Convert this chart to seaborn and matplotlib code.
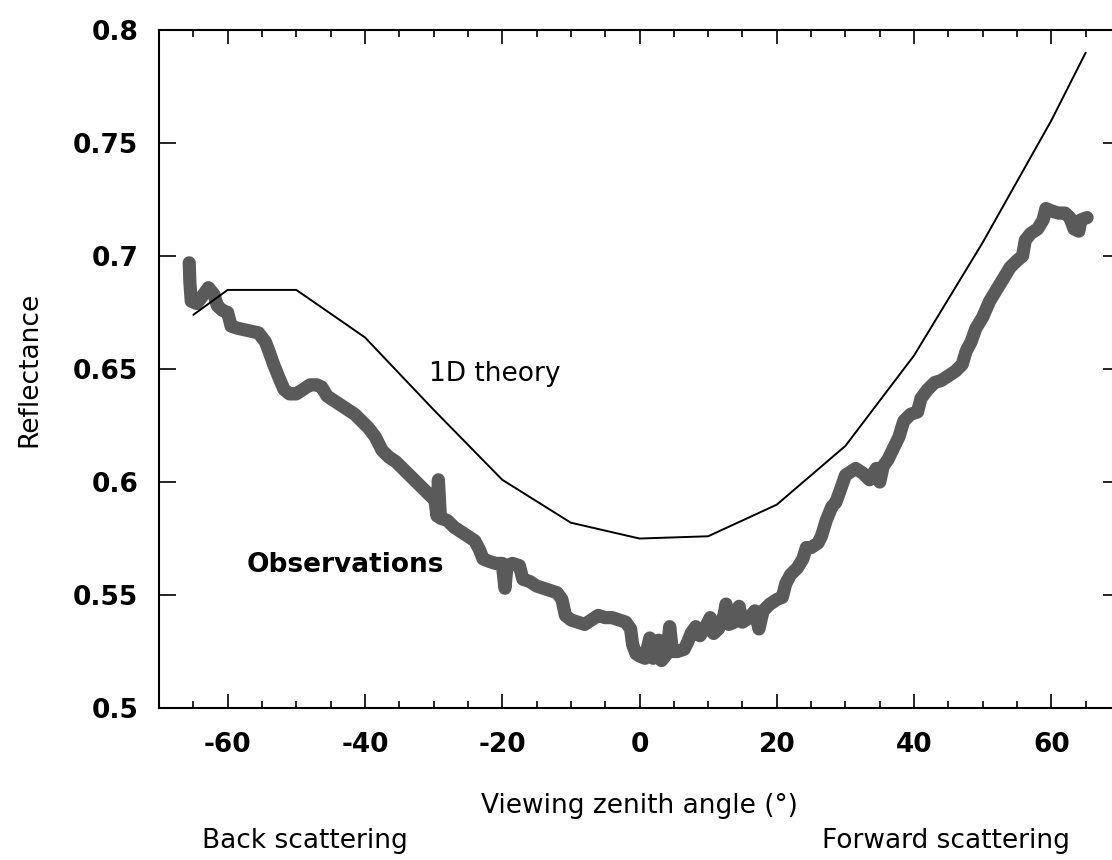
import matplotlib
matplotlib.use("Agg")
import matplotlib.pyplot as plt
import seaborn as sns
import pandas as pd
from matplotlib.ticker import MultipleLocator

# 1D theory curve
theory_x = [-65, -60, -50, -40, -30, -20, -10, 0, 10, 20, 30, 40, 50, 60, 65]
theory_y = [0.674, 0.685, 0.685, 0.664, 0.632, 0.601, 0.582, 0.575, 0.576,
            0.590, 0.616, 0.656, 0.706, 0.760, 0.790]

# observations (keeps the spikes)
obs_x = [-65.6, -65.5, -65.3, -64.5, -63.5, -62.8, -62.0, -61.5, -60.8, -60.0,
         -59.5, -58.5, -57.0, -55.5, -54.5, -54.0, -53.3, -52.5, -51.8, -51.0,
         -50.0, -49.0, -48.0, -47.0, -46.3, -45.5, -44.5, -43.5, -42.5, -41.5,
         -40.5, -39.5, -38.5, -37.5, -36.5, -35.5, -34.5, -33.5, -32.5, -31.5,
         -30.5, -29.8, -29.5, -29.3, -29.0, -28.0, -27.0, -26.0, -25.0, -24.0,
         -23.3, -22.8, -22.0, -21.0, -20.0, -19.6, -19.3, -18.5, -17.5, -17.0,
         -16.0, -15.0, -14.0, -13.0, -12.0, -11.3, -10.8, -10.0, -9.0, -8.0,
         -7.0, -6.0, -5.0, -4.0, -3.0, -2.0, -1.3, -1.0, -0.5, 0.0,
         0.8, 1.5, 2.0, 2.8, 3.2, 4.0, 4.4, 4.8, 5.5, 6.5,
         7.0, 7.5, 8.2, 8.8, 9.5, 10.3, 10.8, 11.5, 12.3, 12.6,
         13.0, 13.8, 14.5, 15.0, 16.0, 16.8, 17.4, 18.0, 19.0, 20.0,
         20.8, 21.3, 22.0, 23.0, 23.8, 24.3, 25.0, 26.0, 26.5, 27.2,
         28.0, 28.6, 29.2, 30.0, 31.5, 32.5, 33.5, 34.5, 35.0, 35.5,
         36.2, 37.0, 37.8, 38.5, 39.5, 40.5, 41.0, 42.0, 43.0, 44.0,
         45.0, 46.0, 47.0, 47.6, 48.3, 49.0, 50.0, 51.0, 52.0, 53.0,
         54.0, 55.0, 55.8, 56.2, 57.0, 58.0, 58.8, 59.2, 60.0, 61.0,
         62.0, 62.7, 63.3, 64.0, 64.3, 65.2]
obs_y = [0.697, 0.688, 0.680, 0.679, 0.683, 0.686, 0.683, 0.678, 0.676, 0.675,
         0.669, 0.668, 0.667, 0.666, 0.662, 0.658, 0.652, 0.646, 0.641, 0.639,
         0.639, 0.641, 0.643, 0.643, 0.642, 0.638, 0.636, 0.634, 0.632, 0.630,
         0.627, 0.624, 0.620, 0.614, 0.611, 0.609, 0.606, 0.603, 0.600, 0.597,
         0.594, 0.592, 0.585, 0.601, 0.584, 0.583, 0.580, 0.578, 0.576, 0.574,
         0.570, 0.566, 0.565, 0.564, 0.564, 0.553, 0.563, 0.564, 0.563, 0.557,
         0.556, 0.554, 0.553, 0.552, 0.551, 0.548, 0.541, 0.539, 0.538, 0.537,
         0.539, 0.541, 0.540, 0.540, 0.539, 0.538, 0.535, 0.528, 0.524, 0.523,
         0.522, 0.531, 0.522, 0.530, 0.521, 0.524, 0.536, 0.525, 0.525, 0.526,
         0.529, 0.533, 0.536, 0.532, 0.535, 0.540, 0.533, 0.535, 0.541, 0.546,
         0.537, 0.538, 0.545, 0.538, 0.540, 0.543, 0.535, 0.543, 0.546, 0.548,
         0.549, 0.555, 0.559, 0.562, 0.566, 0.571, 0.571, 0.573, 0.576, 0.583,
         0.589, 0.591, 0.596, 0.603, 0.606, 0.604, 0.601, 0.606, 0.600, 0.607,
         0.610, 0.615, 0.620, 0.627, 0.630, 0.631, 0.637, 0.641, 0.644, 0.645,
         0.647, 0.649, 0.652, 0.658, 0.662, 0.668, 0.673, 0.680, 0.685, 0.690,
         0.695, 0.698, 0.700, 0.707, 0.710, 0.712, 0.716, 0.721, 0.720, 0.719,
         0.719, 0.717, 0.712, 0.711, 0.716, 0.717]

ytick_vals = [0.5, 0.55, 0.6, 0.65, 0.7, 0.75, 0.8]
ytick_labels = ["0.5", "0.55", "0.6", "0.65", "0.7", "0.75", "0.8"]
xtick_vals = [-60, -40, -20, 0, 20, 40, 60]
xtick_labels = ["-60", "-40", "-20", "0", "20", "40", "60"]

sns.set_style("ticks")
plt.rcParams["font.family"] = ["DejaVu Sans"]
plt.rcParams["text.color"] = "black"
plt.rcParams["axes.labelcolor"] = "black"
plt.rcParams["xtick.color"] = "black"
plt.rcParams["ytick.color"] = "black"
FS = 19

theory = pd.DataFrame({"angle": theory_x, "refl": theory_y})
obs = pd.DataFrame({"angle": obs_x, "refl": obs_y})

fig = plt.figure(figsize=(11.12, 8.6), dpi=100)
ax = fig.add_axes([0.143, 0.1767, 0.8642, 0.7884])

sns.lineplot(data=obs, x="angle", y="refl", sort=False, estimator=None,
             color="#5a5a5a", linewidth=9.5, ax=ax,
             solid_joinstyle="round", solid_capstyle="round")
sns.lineplot(data=theory, x="angle", y="refl", sort=False, estimator=None,
             color="black", linewidth=1.4, ax=ax)

ax.set_xlim(-70, 70)
ax.set_ylim(0.5, 0.8)
ax.xaxis.set_minor_locator(MultipleLocator(5))
ax.set_xticks(xtick_vals)
ax.set_xticklabels(xtick_labels)
ax.set_yticks(ytick_vals)
ax.set_yticklabels(ytick_labels)

for s in ax.spines.values():
    s.set_visible(True)
    s.set_linewidth(1.5)
    s.set_color("black")

ax.tick_params(axis="x", which="major", direction="in", length=10, width=1.2,
               top=True, bottom=True, labelsize=FS, pad=17, colors="black")
ax.tick_params(axis="x", which="minor", direction="in", length=5, width=1.2,
               top=True, bottom=True, colors="black")
ax.tick_params(axis="y", which="major", direction="in", length=12, width=1.2,
               left=True, right=True, labelsize=FS, pad=15, colors="black")
for lab in ax.get_xticklabels() + ax.get_yticklabels():
    lab.set_fontweight("bold")

ax.set_xlabel("Viewing zenith angle (°)", fontsize=FS, color="black")
ax.set_ylabel("Reflectance", fontsize=FS, color="black")
ax.xaxis.set_label_coords(0.5, -0.125)
ax.yaxis.set_label_coords(-0.121, 0.5)

ax.text(-21.1, 0.648, "1D theory", fontsize=FS, ha="center", va="center",
        color="black")
ax.text(-42.8, 0.5633, "Observations", fontsize=FS, fontweight="bold",
        ha="center", va="center", color="black")
fig.text(305 / 1112, 1 - 848 / 860, "Back scattering", fontsize=FS,
         ha="center", va="baseline", color="black")
fig.text(946 / 1112, 1 - 848 / 860, "Forward scattering", fontsize=FS,
         ha="center", va="baseline", color="black")

fig.savefig("out.png", dpi=100)
